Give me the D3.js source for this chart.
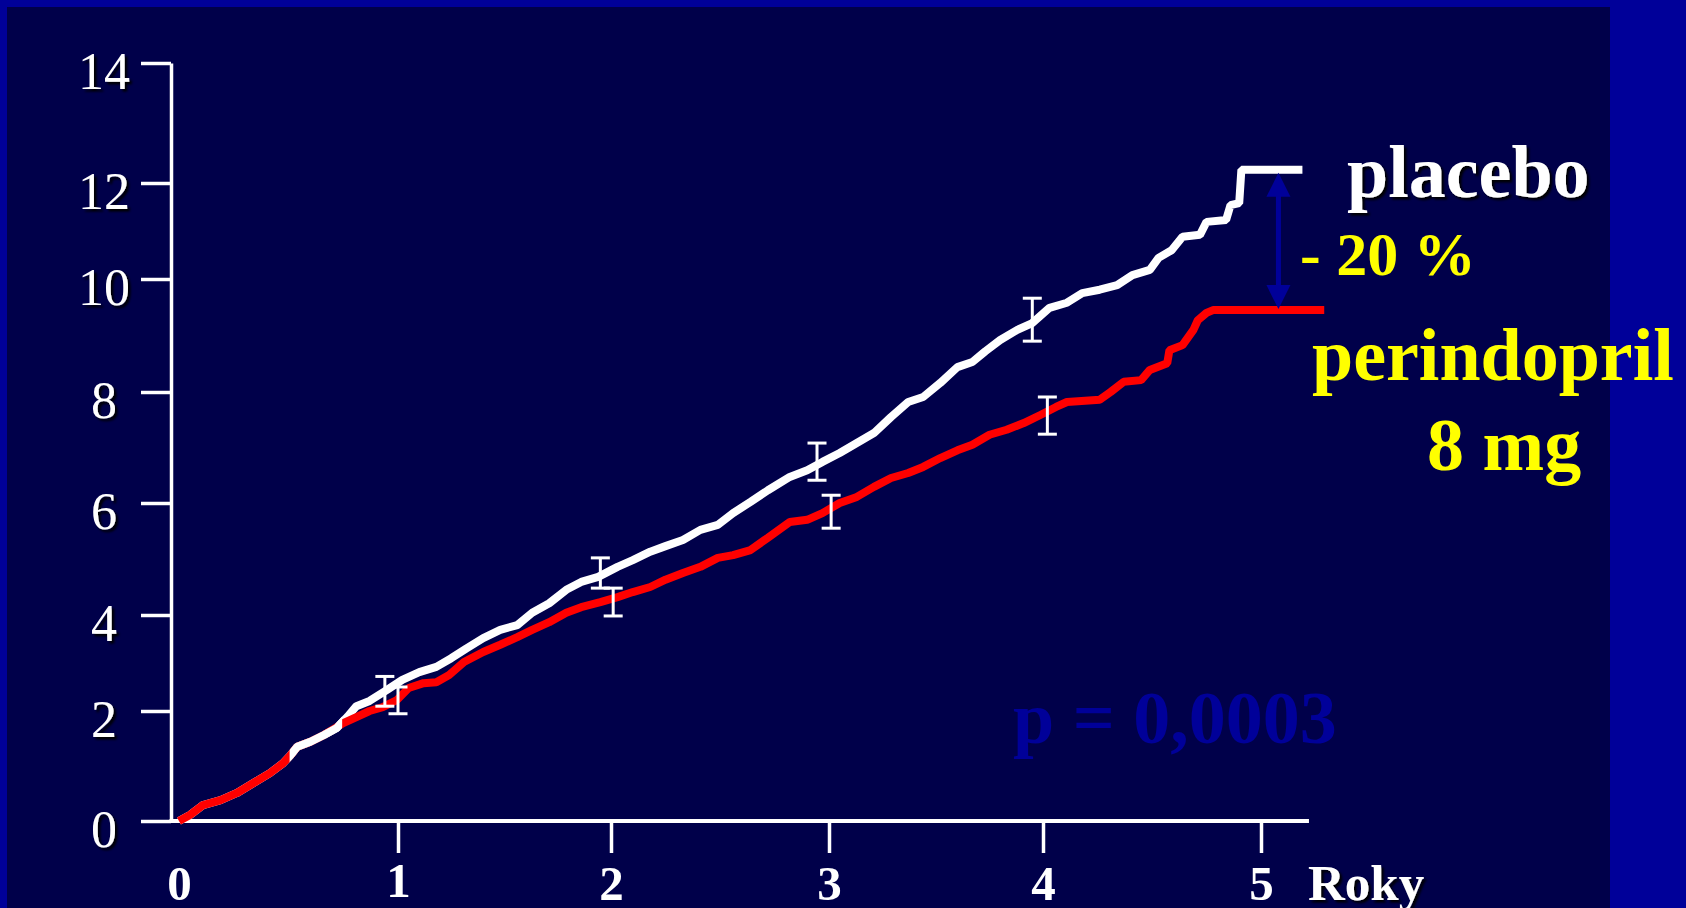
<!DOCTYPE html>
<html>
<head>
<meta charset="utf-8">
<script src="https://cdn.jsdelivr.net/npm/d3@7"></script>
<style>
  html, body { margin: 0; padding: 0; background: #000099; overflow: hidden; }
  svg { display: block; }
</style>
</head>
<body>
<svg id="chart" width="1686" height="908"></svg>
<script>
// ---- data -------------------------------------------------------------
const yTicks = [0, 2, 4, 6, 8, 10, 12, 14];
const xTicks = [0, 1, 2, 3, 4, 5];
const xUnit = "Roky";

// cumulative event rate (%) by year, [years, percent]
const placebo = [
  [0, 0], [0.05, 0.11], [0.11, 0.29], [0.19, 0.38], [0.265, 0.51], [0.34, 0.69],
  [0.415, 0.87], [0.475, 1.05], [0.51, 1.2], [0.54, 1.35], [0.60, 1.44], [0.66, 1.56],
  [0.72, 1.69], [0.77, 1.9], [0.81, 2.10], [0.87, 2.21], [0.95, 2.44], [1.02, 2.65],
  [1.10, 2.81], [1.18, 2.92], [1.25, 3.10], [1.32, 3.30], [1.40, 3.52], [1.48, 3.69],
  [1.56, 3.79], [1.63, 4.04], [1.71, 4.21], [1.79, 4.45], [1.86, 4.59], [1.94, 4.68],
  [2.03, 4.86], [2.10, 4.98], [2.18, 5.13], [2.25, 5.23], [2.33, 5.34], [2.41, 5.52],
  [2.49, 5.61], [2.56, 5.82], [2.64, 6.02], [2.72, 6.23], [2.82, 6.47], [2.90, 6.59],
  [2.97, 6.74], [3.05, 6.90], [3.13, 7.08], [3.21, 7.26], [3.29, 7.55], [3.37, 7.82],
  [3.44, 7.91], [3.52, 8.16], [3.60, 8.44], [3.67, 8.53], [3.73, 8.72], [3.80, 8.92],
  [3.88, 9.10], [3.95, 9.22], [4.03, 9.49], [4.11, 9.58], [4.18, 9.75], [4.26, 9.81],
  [4.34, 9.89], [4.41, 10.08], [4.49, 10.19], [4.53, 10.44], [4.59, 10.60], [4.64, 10.88],
  [4.72, 10.92], [4.75, 11.19], [4.84, 11.23], [4.86, 11.54], [4.90, 11.58], [4.91, 12.22],
  [5.19, 12.22]
];
const perindopril = [
  [0, 0], [0.05, 0.11], [0.11, 0.29], [0.19, 0.38], [0.265, 0.51], [0.34, 0.69],
  [0.415, 0.87], [0.475, 1.05], [0.51, 1.2], [0.54, 1.35], [0.60, 1.44], [0.66, 1.56],
  [0.75, 1.78], [0.81, 1.89], [0.87, 2.0], [0.93, 2.08], [0.995, 2.23], [1.05, 2.48],
  [1.12, 2.58], [1.18, 2.60], [1.24, 2.75], [1.31, 3.02], [1.40, 3.23], [1.48, 3.38],
  [1.56, 3.54], [1.63, 3.69], [1.71, 3.85], [1.79, 4.04], [1.86, 4.14], [1.95, 4.23],
  [2.03, 4.32], [2.10, 4.41], [2.18, 4.50], [2.25, 4.63], [2.33, 4.75], [2.41, 4.86],
  [2.49, 5.02], [2.56, 5.07], [2.64, 5.16], [2.72, 5.38], [2.82, 5.66], [2.90, 5.70],
  [2.97, 5.82], [3.05, 6.0], [3.13, 6.11], [3.21, 6.29], [3.29, 6.45], [3.37, 6.54],
  [3.44, 6.65], [3.52, 6.81], [3.60, 6.95], [3.67, 7.05], [3.75, 7.23], [3.83, 7.32],
  [3.91, 7.44], [3.99, 7.59], [4.06, 7.73], [4.11, 7.82], [4.26, 7.86], [4.31, 8.0],
  [4.37, 8.18], [4.45, 8.21], [4.49, 8.39], [4.57, 8.51], [4.58, 8.74], [4.64, 8.83],
  [4.69, 9.10], [4.71, 9.27], [4.75, 9.40], [4.78, 9.45], [5.29, 9.45]
];

// confidence intervals at yearly checkpoints
const placeboCI = [
  { t: 0.94, lo: 2.10, hi: 2.72 },
  { t: 1.95, lo: 4.48, hi: 5.02 },
  { t: 2.945, lo: 6.41, hi: 7.08 },
  { t: 3.95, lo: 8.90, hi: 9.66 }
];
const perindoprilCI = [
  { t: 1.0, lo: 1.95, hi: 2.50 },
  { t: 2.01, lo: 3.98, hi: 4.48 },
  { t: 3.01, lo: 5.55, hi: 6.14 },
  { t: 4.02, lo: 7.24, hi: 7.91 }
];

const placeboLabel = "placebo";
const perindoprilLabel = ["perindopril", "8 mg"];
const reductionLabel = "- 20 %";
const pValueLabel = "p = 0,0003";

// ---- layout -------------------------------------------------------------
const W = 1686, H = 908;
const serif = "'Liberation Serif', 'Times New Roman', Times, serif";
const svg = d3.select("#chart");

const defs = svg.append("defs");
const shadow = defs.append("filter").attr("id", "shadow")
  .attr("x", "-10%").attr("y", "-10%").attr("width", "130%").attr("height", "130%");
shadow.append("feDropShadow").attr("dx", 2.5).attr("dy", 2.5)
  .attr("stdDeviation", 0.8).attr("flood-color", "#000000").attr("flood-opacity", 1);

// slide frame and dark plotting panel
svg.append("rect").attr("width", W).attr("height", H).attr("fill", "#000099");
svg.append("rect").attr("x", 7).attr("y", 7).attr("width", 1603).attr("height", H - 7)
  .attr("fill", "#00004a");

// scales (hand-spaced axis, piecewise linear between the ticks)
const x = d3.scaleLinear().domain(xTicks).range([179, 398, 611, 829, 1043, 1261]);
const y = d3.scaleLinear().domain(yTicks).range([821, 711, 615, 503, 392, 279, 183, 63]);
const axisX0 = 171;
const axisEnd = 5.22;

// ---- y axis -------------------------------------------------------------
const gy = svg.append("g").attr("transform", `translate(${axisX0},0)`)
  .call(d3.axisLeft(y).tickValues(yTicks).tickSize(30).tickSizeOuter(0).tickFormat(d3.format("d")));
gy.select(".domain").attr("stroke", "#ffffff").attr("stroke-width", 3.5);
gy.selectAll(".tick line").attr("stroke", "#ffffff").attr("stroke-width", 3.5);
gy.selectAll(".tick text")
  .attr("x", -67).attr("dy", null).attr("y", 25)
  .attr("text-anchor", "middle")
  .attr("fill", "#ffffff")
  .attr("font-family", serif).attr("font-size", 52)
  .attr("filter", "url(#shadow)");

// ---- x axis -------------------------------------------------------------
const gx = svg.append("g").attr("transform", `translate(0,${y(0)})`)
  .call(d3.axisBottom(x).tickValues(xTicks).tickSize(32).tickSizeOuter(0).tickFormat(d3.format("d")));
gx.select(".domain").remove();
gx.selectAll(".tick line").attr("stroke", "#ffffff").attr("stroke-width", 3.5)
  .attr("display", d => d === 0 ? "none" : null);
gx.selectAll(".tick text")
  .attr("y", d => d === 1 ? 76 : 79).attr("dy", null)
  .attr("fill", "#ffffff")
  .attr("font-family", serif).attr("font-size", 49).attr("font-weight", "bold");
gx.append("line")
  .attr("x1", axisX0 - 1.5).attr("x2", x(axisEnd))
  .attr("y1", 0).attr("y2", 0)
  .attr("stroke", "#ffffff").attr("stroke-width", 4);
svg.append("text")
  .attr("x", 1308).attr("y", 900)
  .attr("fill", "#ffffff")
  .attr("font-family", serif).attr("font-size", 51).attr("font-weight", "bold")
  .attr("filter", "url(#shadow)")
  .text(xUnit);

// ---- p value ------------------------------------------------------------
svg.append("text")
  .attr("x", 1013).attr("y", 743)
  .attr("fill", "#000099")
  .attr("font-family", serif).attr("font-size", 74).attr("font-weight", "bold")
  .text(pValueLabel);

// ---- event curves -------------------------------------------------------
const line = d3.line()
  .x(d => x(d[0]))
  .y(d => y(d[1]))
  .curve(d3.curveLinear);

const curves = svg.append("g").attr("fill", "none").attr("stroke-width", 8)
  .attr("stroke-linejoin", "bevel");
curves.append("path").datum(placebo).attr("d", line).attr("stroke", "#ffffff");
curves.append("path").datum(perindopril).attr("d", line).attr("stroke", "#ff0000");

// stretch where the placebo trace lies over the overlapping red trace
defs.append("clipPath").attr("id", "placeboOver")
  .append("rect")
  .attr("x", x(0.505)).attr("width", x(0.745) - x(0.505))
  .attr("y", 0).attr("height", H);
curves.append("path").datum(placebo).attr("d", line).attr("stroke", "#ffffff")
  .attr("clip-path", "url(#placeboOver)");

// ---- confidence interval I-beams ----------------------------------------
const capHalf = 9.5;
const bars = svg.append("g").attr("stroke", "#ffffff").attr("stroke-width", 3);
[...placeboCI, ...perindoprilCI].forEach(c => {
  const cx = x(c.t);
  bars.append("line").attr("x1", cx).attr("x2", cx).attr("y1", y(c.lo)).attr("y2", y(c.hi));
  bars.append("line").attr("x1", cx - capHalf).attr("x2", cx + capHalf).attr("y1", y(c.lo)).attr("y2", y(c.lo));
  bars.append("line").attr("x1", cx - capHalf).attr("x2", cx + capHalf).attr("y1", y(c.hi)).attr("y2", y(c.hi));
});

// ---- reduction arrow between the final values ---------------------------
const placeboEnd = placebo[placebo.length - 1][1];
const perindoprilEnd = perindopril[perindopril.length - 1][1];
const arrowX = x(5.08);
const topTip = y(placeboEnd) + 3;
const botTip = y(perindoprilEnd) - 1;
const headH = 24, headW = 12;
const arrow = svg.append("g").attr("fill", "#000099");
arrow.append("rect")
  .attr("x", arrowX - 2.5).attr("width", 5)
  .attr("y", topTip + headH - 2).attr("height", (botTip - headH) - (topTip + headH) + 4);
arrow.append("path")
  .attr("d", `M${arrowX},${topTip}L${arrowX + headW},${topTip + headH}L${arrowX - headW},${topTip + headH}Z`);
arrow.append("path")
  .attr("d", `M${arrowX},${botTip}L${arrowX + headW},${botTip - headH}L${arrowX - headW},${botTip - headH}Z`);

// ---- series labels ------------------------------------------------------
svg.append("text")
  .attr("x", 1347).attr("y", 197)
  .attr("fill", "#ffffff")
  .attr("font-family", serif).attr("font-size", 74).attr("font-weight", "bold")
  .attr("filter", "url(#shadow)")
  .text(placeboLabel);

svg.append("text")
  .attr("x", 1300).attr("y", 275)
  .attr("fill", "#ffff00")
  .attr("font-family", serif).attr("font-size", 62).attr("font-weight", "bold")
  .style("white-space", "pre")
  .text(reductionLabel);

svg.append("text")
  .attr("x", 1312).attr("y", 380)
  .attr("fill", "#ffff00")
  .attr("font-family", serif).attr("font-size", 74).attr("font-weight", "bold")
  .text(perindoprilLabel[0]);
svg.append("text")
  .attr("x", 1427).attr("y", 470)
  .attr("fill", "#ffff00")
  .attr("font-family", serif).attr("font-size", 74).attr("font-weight", "bold")
  .text(perindoprilLabel[1]);
</script>
</body>
</html>
